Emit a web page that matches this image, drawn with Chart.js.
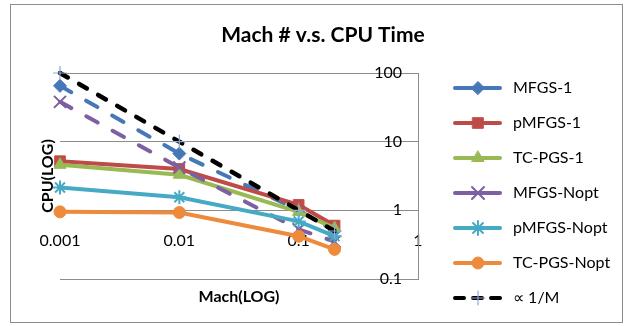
<!DOCTYPE html>
<html>
<head>
<meta charset="utf-8">
<script src="https://cdn.jsdelivr.net/npm/chart.js@4/dist/chart.umd.min.js"></script>
<style>
  html, body { margin: 0; padding: 0; background: #fff; }
  #wrap { width: 625px; height: 326px; position: relative; }
</style>
</head>
<body>
<div id="wrap"><canvas id="chart" width="625" height="326"></canvas></div>
<script>
// Mach numbers tested and CPU time per solver (log-log)
const machNumbers = [0.001, 0.01, 0.1, 0.2];
const mfgs1      = [65, 6.7, 1.0, 0.5];
const pmfgs1     = [5.2, 4.0, 1.2, 0.6];
const tcpgs1     = [4.6, 3.3, 0.95, 0.55];
const mfgsNopt   = [38, 4.2, 0.53, 0.35];
const pmfgsNopt  = [2.15, 1.55, 0.69, 0.42];
const tcpgsNopt  = [0.95, 0.93, 0.42, 0.27];
const inverseMach = [100, 10, 1, 0.5];

const seriesNames = ['MFGS-1', 'pMFGS-1', 'TC-PGS-1', 'MFGS-Nopt', 'pMFGS-Nopt', 'TC-PGS-Nopt', '\u221D 1/M'];

const machTicks = [0.001, 0.01, 0.1, 1];
const machTickLabels = ['0.001', '0.01', '0.1', '1'];
const cpuTicks = [0.1, 1, 10, 100];
const cpuTickLabels = ['0.1', '1', '10', '100'];

Chart.defaults.font.family = 'Lato, "Open Sans", sans-serif';
Chart.defaults.color = '#000';

function pts(values) {
  return values.map((v, i) => ({ x: machNumbers[i], y: v }));
}

function series(i, values, color, style, radius, extra) {
  return Object.assign({
    label: seriesNames[i],
    data: pts(values),
    borderColor: color,
    backgroundColor: color,
    borderWidth: 4,
    borderCapStyle: 'round',
    pointStyle: style,
    pointRadius: radius,
    pointBorderColor: color,
    pointBackgroundColor: color,
    pointBorderWidth: 1,
    tension: 0,
    clip: false,
    order: seriesNames.length - i
  }, extra || {});
}

const datasets = [
  series(0, mfgs1, '#4677B8', 'rectRot', 6.5, { borderDash: [13, 17] }),
  series(1, pmfgs1, '#BE4B48', 'rect', 7.5),
  series(2, tcpgs1, '#98B954', 'triangle', 7),
  series(3, mfgsNopt, '#7D60A0', 'crossRot', 8.5, { borderDash: [13, 17], pointBorderWidth: 2 }),
  series(4, pmfgsNopt, '#46AAC5', 'star', 7, { pointBorderWidth: 2 }),
  series(5, tcpgsNopt, '#EE8A3C', 'circle', 6),
  series(6, inverseMach, '#000000', 'cross', 7, {
    borderWidth: 4.5, borderDash: [9, 13], legendDash: [9, 9],
    pointBorderColor: '#8FA9D8', pointBackgroundColor: '#8FA9D8', pointBorderWidth: 1.2
  })
];

// Legend sample: short line with the series marker in its middle
function legendSample(ds) {
  const c = document.createElement('canvas');
  c.width = 52; c.height = 18;
  const g = c.getContext('2d');
  g.lineCap = 'round';
  g.strokeStyle = ds.borderColor;
  g.lineWidth = 4;
  g.setLineDash(ds.legendDash || []);
  g.beginPath(); g.moveTo(2, 9); g.lineTo(47, 9); g.stroke();
  g.setLineDash([]);
  g.fillStyle = ds.pointBackgroundColor;
  g.strokeStyle = ds.pointBorderColor;
  g.lineWidth = ds.pointBorderWidth;
  Chart.helpers.drawPoint(g, {
    pointStyle: ds.pointStyle, radius: ds.pointRadius,
    borderWidth: ds.pointBorderWidth, rotation: 0
  }, 25, 9);
  return c;
}

const framePlugin = {
  id: 'frame',
  beforeDraw(chart) {
    const ctx = chart.ctx;
    ctx.save();
    ctx.fillStyle = '#fff';
    ctx.fillRect(0, 0, chart.width, chart.height);
    ctx.strokeStyle = '#8C8C8C';
    ctx.lineWidth = 1;
    ctx.strokeRect(10.5, 4.5, 612, 318);
    ctx.restore();
  }
};

new Chart(document.getElementById('chart'), {
  type: 'line',
  data: { datasets },
  plugins: [framePlugin],
  options: {
    responsive: false,
    animation: false,
    events: [],
    layout: { padding: { top: 4, left: 31, right: 10, bottom: 1 } },
    plugins: {
      title: {
        display: true,
        text: 'Mach # v.s. CPU Time',
        color: '#000',
        font: { size: 21, weight: 'bold' },
        padding: { top: 18.4, bottom: 25.4 }
      },
      legend: {
        position: 'right',
        align: 'end',
        maxWidth: 181,
        labels: {
          usePointStyle: true,
          pointStyleWidth: 52,
          padding: 19,
          color: '#000',
          font: { size: 16 },
          generateLabels: chart => chart.data.datasets.map((ds, i) => ({
            text: ds.label,
            pointStyle: legendSample(ds),
            datasetIndex: i,
            hidden: false,
            lineWidth: 0,
            strokeStyle: ds.borderColor,
            fillStyle: ds.backgroundColor,
            fontColor: '#000'
          }))
        }
      },
      tooltip: { enabled: false }
    },
    scales: {
      x: {
        type: 'logarithmic',
        position: 'bottom',
        min: 0.001,
        max: 1,
        z: 1,
        grid: { display: false, drawTicks: false },
        border: { display: false },
        afterBuildTicks: s => { s.ticks = machTicks.map(v => ({ value: v })); },
        afterFit: s => { s.height = 46; },
        ticks: {
          mirror: true,
          padding: 28.4,
          color: '#000',
          font: { size: 16 },
          maxRotation: 0,
          autoSkip: false,
          callback: (v, i) => machTickLabels[i]
        },
        title: {
          display: true,
          text: 'Mach(LOG)',
          color: '#000',
          font: { size: 16, weight: 'bold' },
          padding: { top: 0, bottom: 18.4 }
        }
      },
      y: {
        type: 'logarithmic',
        position: 'right',
        min: 0.1,
        max: 100,
        grid: { color: '#8C8C8C', lineWidth: 1, drawTicks: false },
        border: { display: true, color: '#8C8C8C', width: 1 },
        afterBuildTicks: s => { s.ticks = cpuTicks.map(v => ({ value: v })); },
        afterFit: s => { s.width = 16; },
        ticks: {
          mirror: true,
          padding: -16,
          color: '#000',
          font: { size: 16 },
          autoSkip: false,
          callback: (v, i) => cpuTickLabels[i]
        }
      },
      yTitle: {
        type: 'linear',
        axis: 'y',
        position: 'left',
        grid: { display: false, drawTicks: false },
        border: { display: false },
        ticks: { display: false },
        afterFit: s => { s.width = 29; },
        title: {
          display: true,
          text: 'CPU(LOG)',
          color: '#000',
          font: { size: 16, weight: 'bold' },
          padding: { top: 7.4, bottom: 0 }
        }
      }
    }
  }
});
</script>
</body>
</html>
